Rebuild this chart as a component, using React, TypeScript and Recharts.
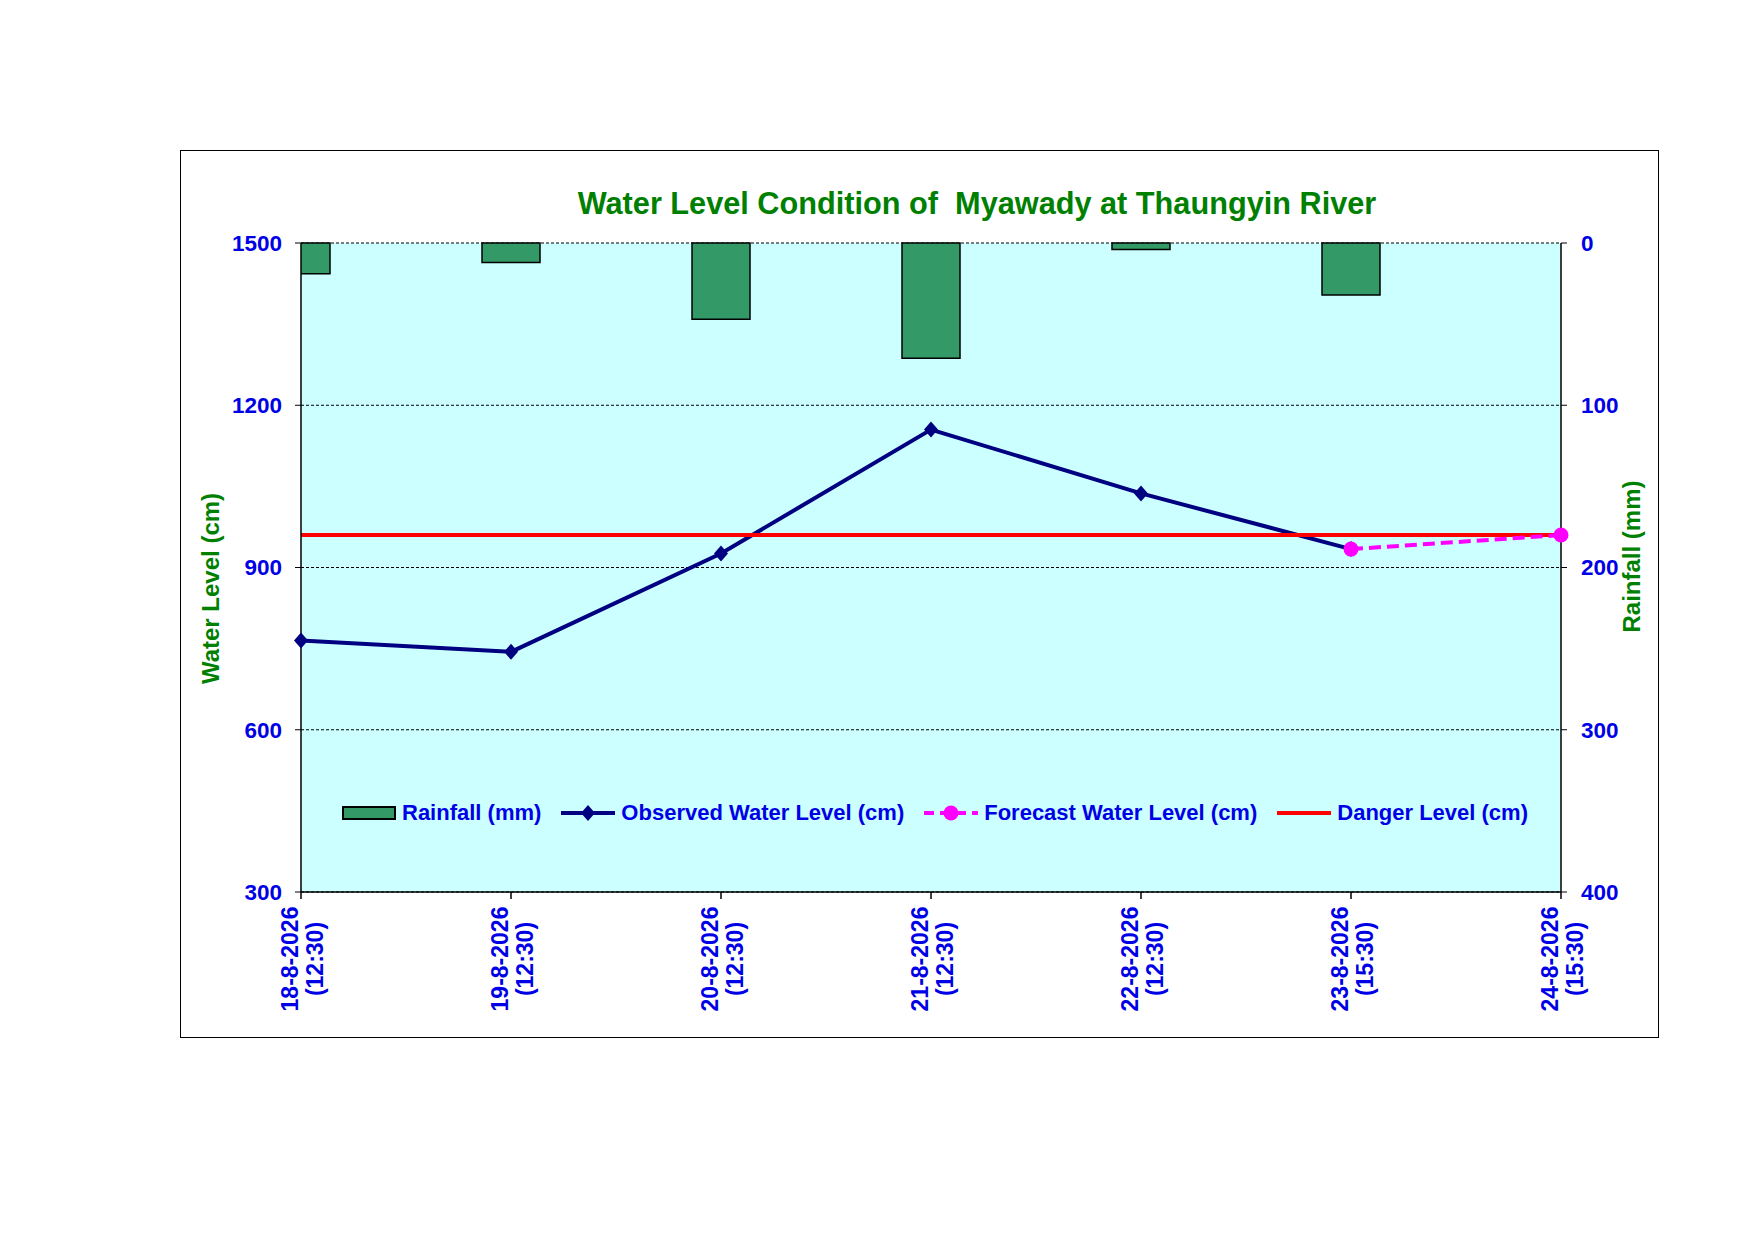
import { ComposedChart, Bar, Line, XAxis, YAxis, CartesianGrid, Legend } from "recharts";

const dates = ["18-8-2026", "19-8-2026", "20-8-2026", "21-8-2026", "22-8-2026", "23-8-2026", "24-8-2026"];
const times = ["(12:30)", "(12:30)", "(12:30)", "(12:30)", "(12:30)", "(15:30)", "(15:30)"];
const rainfall = [19, 12, 47, 71, 4, 32, null];
const observed = [765, 744, 926, 1155, 1037, 934, null];
const forecast = [null, null, null, null, null, 934, 960];
const danger = [960, 960, 960, 960, 960, 960, 960];
const levelTicks = [300, 600, 900, 1200, 1500];
const rainTicks = [0, 100, 200, 300, 400];
const dayTicks = [0, 1, 2, 3, 4, 5, 6];

const data = dates.map((d, i) => ({
  i,
  date: d,
  rainfall: rainfall[i],
  observed: observed[i],
  forecast: forecast[i],
  danger: danger[i],
}));

const FONT = "'Liberation Sans', Arial, sans-serif";
const BLUE = "#0000E6";
const GREEN = "#008000";
const NAVY = "#000080";
const MAGENTA = "#FF00FF";
const RED = "#FF0000";
const BAR = "#339966";

function DateTick(props: any) {
  const { x, y, payload } = props;
  const i = payload.value;
  const style = { fill: BLUE, fontSize: 23, fontWeight: "bold", fontFamily: FONT } as any;
  return (
    <g transform={`translate(${x},${y})`}>
      <text transform="rotate(-90)" x={-60} y={-3} textAnchor="middle" {...style}>
        {dates[i]}
      </text>
      <text transform="rotate(-90)" x={-60} y={22} textAnchor="middle" {...style}>
        {times[i]}
      </text>
    </g>
  );
}

function Diamond(props: any) {
  const { cx, cy } = props;
  if (cx == null || cy == null) return <g />;
  return <polygon points={`${cx},${cy - 8} ${cx + 7},${cy} ${cx},${cy + 8} ${cx - 7},${cy}`} fill={NAVY} />;
}

function LeftTitle(props: any) {
  const { viewBox } = props;
  const x = viewBox.x + 38;
  const y = viewBox.y + viewBox.height / 2 + 21;
  return (
    <text x={x} y={y} transform={`rotate(-90, ${x}, ${y})`} textAnchor="middle" fill={GREEN} fontSize={24} fontWeight="bold" fontFamily={FONT}>
      Water Level (cm)
    </text>
  );
}

function RightTitle(props: any) {
  const { viewBox } = props;
  const x = viewBox.x + 79;
  const y = viewBox.y + viewBox.height / 2 - 11;
  return (
    <text x={x} y={y} transform={`rotate(-90, ${x}, ${y})`} textAnchor="middle" fill={GREEN} fontSize={24} fontWeight="bold" fontFamily={FONT}>
      Rainfall (mm)
    </text>
  );
}

const legendItems = [
  { name: "Rainfall (mm)", kind: "bar" },
  { name: "Observed Water Level (cm)", kind: "observed" },
  { name: "Forecast Water Level (cm)", kind: "forecast" },
  { name: "Danger Level (cm)", kind: "danger" },
];

function LegendIcon({ kind }: { kind: string }) {
  if (kind === "bar") return <rect x={1} y={4} width={52} height={12} fill={BAR} stroke="#000" strokeWidth={2} />;
  if (kind === "observed")
    return (
      <g>
        <line x1={0} y1={10} x2={54} y2={10} stroke={NAVY} strokeWidth={4} />
        <polygon points="27,2 34,10 27,18 20,10" fill={NAVY} />
      </g>
    );
  if (kind === "forecast")
    return (
      <g>
        <line x1={0} y1={10} x2={54} y2={10} stroke={MAGENTA} strokeWidth={4} strokeDasharray="10 6" />
        <circle cx={27} cy={10} r={7.5} fill={MAGENTA} />
      </g>
    );
  return <line x1={0} y1={10} x2={54} y2={10} stroke={RED} strokeWidth={4} />;
}

function LegendRow() {
  return (
    <div
      style={{
        display: "flex",
        alignItems: "center",
        fontFamily: FONT,
        fontWeight: "bold",
        fontSize: 22,
        lineHeight: "26px",
        color: BLUE,
        whiteSpace: "nowrap",
      }}
    >
      {legendItems.map((item) => (
        <div key={item.name} style={{ display: "flex", alignItems: "center", marginRight: 20 }}>
          <svg width={54} height={20} style={{ marginRight: 6 }}>
            <LegendIcon kind={item.kind} />
          </svg>
          <span>{item.name}</span>
        </div>
      ))}
    </div>
  );
}

export default function App() {
  return (
    <div style={{ position: "absolute", left: 0, top: 0, width: 1754, height: 1241, background: "#fff" }}>
      <div
        style={{
          position: "absolute",
          left: 180,
          top: 150,
          width: 1477,
          height: 886,
          border: "1px solid #000",
        }}
      />
      <svg width={1754} height={1241} style={{ position: "absolute", left: 0, top: 0 }}>
        <text
          x={977}
          y={214}
          textAnchor="middle"
          fill={GREEN}
          fontSize={30.7}
          fontWeight="bold"
          fontFamily={FONT}
          style={{ whiteSpace: "pre" }}
        >
          {"Water Level Condition of  Myawady at Thaungyin River"}
        </text>
      </svg>
      <div style={{ position: "absolute", left: 0, top: 0 }}>
        <ComposedChart width={1754} height={1241} data={data} margin={{ top: 243, left: 181, right: 73, bottom: 229 }}>
          <CartesianGrid
            xAxisId="main"
            yAxisId="wl"
            vertical={false}
            fill="#CCFFFF"
            stroke="#000"
            strokeDasharray="3 2"
            strokeWidth={1}
          />
          <XAxis
            xAxisId="main"
            dataKey="i"
            type="number"
            domain={[0, 6]}
            ticks={dayTicks}
            interval={0}
            height={120}
            tick={<DateTick />}
            tickSize={7}
            tickMargin={0}
            axisLine={{ stroke: "#000", strokeWidth: 1.5 }}
            tickLine={{ stroke: "#000", strokeWidth: 1.5 }}
          />
          <XAxis
            xAxisId="bar"
            dataKey="i"
            type="number"
            domain={[0, 6]}
            ticks={dayTicks}
            height={0}
            hide
            allowDataOverflow
          />
          <YAxis
            yAxisId="wl"
            domain={[300, 1500]}
            ticks={levelTicks}
            interval={0}
            width={120}
            tickSize={6}
            tickMargin={13}
            tick={{ fill: BLUE, fontSize: 22.5, fontWeight: "bold", fontFamily: FONT }}
            axisLine={{ stroke: "#000", strokeWidth: 1.5 }}
            tickLine={{ stroke: "#000", strokeWidth: 1 }}
            label={<LeftTitle />}
          />
          <YAxis
            yAxisId="rf"
            orientation="right"
            reversed
            domain={[0, 400]}
            ticks={rainTicks}
            interval={0}
            width={120}
            tickSize={6}
            tickMargin={14}
            tick={{ fill: BLUE, fontSize: 22.5, fontWeight: "bold", fontFamily: FONT, textAnchor: "start" }}
            axisLine={{ stroke: "#000", strokeWidth: 1.5 }}
            tickLine={{ stroke: "#000", strokeWidth: 1 }}
            label={<RightTitle />}
          />
          <Bar
            xAxisId="bar"
            yAxisId="rf"
            dataKey="rainfall"
            name="Rainfall (mm)"
            barSize={58}
            fill={BAR}
            stroke="#000"
            strokeWidth={1.5}
            isAnimationActive={false}
          />
          <Line
            xAxisId="main"
            yAxisId="wl"
            dataKey="observed"
            name="Observed Water Level (cm)"
            stroke={NAVY}
            strokeWidth={4}
            dot={<Diamond />}
            activeDot={false}
            isAnimationActive={false}
          />
          <Line
            xAxisId="main"
            yAxisId="wl"
            dataKey="danger"
            name="Danger Level (cm)"
            stroke={RED}
            strokeWidth={4}
            dot={false}
            activeDot={false}
            isAnimationActive={false}
          />
          <Line
            xAxisId="main"
            yAxisId="wl"
            dataKey="forecast"
            name="Forecast Water Level (cm)"
            stroke={MAGENTA}
            strokeWidth={4}
            strokeDasharray="12 6"
            dot={{ r: 7.5, fill: MAGENTA, stroke: "none" }}
            activeDot={false}
            isAnimationActive={false}
          />
          <Legend
            layout="horizontal"
            verticalAlign="middle"
            align="center"
            wrapperStyle={{ top: 800, left: 342, width: "auto", height: "auto" }}
            content={() => <LegendRow />}
          />
        </ComposedChart>
      </div>
    </div>
  );
}
